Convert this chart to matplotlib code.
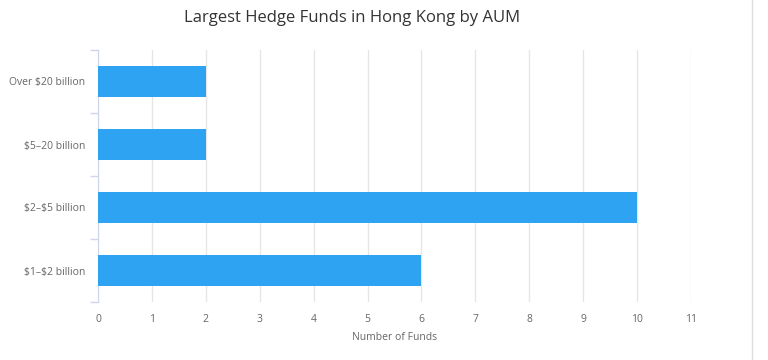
import matplotlib
matplotlib.use("Agg")
import matplotlib.pyplot as plt
from matplotlib.lines import Line2D
from matplotlib.ticker import FixedLocator

plt.rcParams['text.parse_math'] = False
plt.rcParams['font.family'] = ['Open Sans', 'DejaVu Sans']

categories = ['Over $20 billion', '$5–20 billion', '$2–$5 billion', '$1–$2 billion']
funds = [2, 2, 10, 6]
x_ticks = list(range(0, 12))

bar_color = '#2ea3f2'
text_color = '#666666'
axis_color = '#ccd6eb'

fig = plt.figure(figsize=(7.68, 3.6), dpi=100)
ax = fig.add_axes([98 / 768, (360 - 302) / 360, 593 / 768, 252 / 360])

ypos = list(range(len(categories)))
ax.barh(ypos, funds, height=0.48, color=bar_color, zorder=3)
ax.set_ylim(len(categories) - 0.5, -0.5)
ax.set_xlim(0, 11)

ax.set_yticks(ypos)
ax.set_yticklabels(categories, color=text_color, fontsize=7.5)
ax.yaxis.set_minor_locator(FixedLocator([i - 0.5 for i in range(len(categories) + 1)]))
ax.tick_params(axis='y', which='major', length=0, pad=9)
ax.tick_params(axis='y', which='minor', length=6, color=axis_color, width=1)

ax.set_xticks(x_ticks)
ax.set_xticklabels([str(t) for t in x_ticks], color=text_color, fontsize=7.5)
ax.tick_params(axis='x', length=0, pad=9)
ax.grid(axis='x', color='#e6e6e6', linewidth=1, zorder=0)

for side in ['top', 'right', 'bottom']:
    ax.spines[side].set_visible(False)
ax.spines['left'].set_color(axis_color)

ax.set_xlabel('Number of Funds', color=text_color, fontsize=7.5, labelpad=5)

fig.text(352 / 768, 1 - 18 / 360, 'Largest Hedge Funds in Hong Kong by AUM',
         ha='center', va='center', fontsize=12, color='#333333')

fig.add_artist(Line2D([752 / 768, 752 / 768], [0, 1], color='#dddddd', linewidth=1,
                      transform=fig.transFigure))

fig.savefig('out.png', dpi=100, facecolor='white')
